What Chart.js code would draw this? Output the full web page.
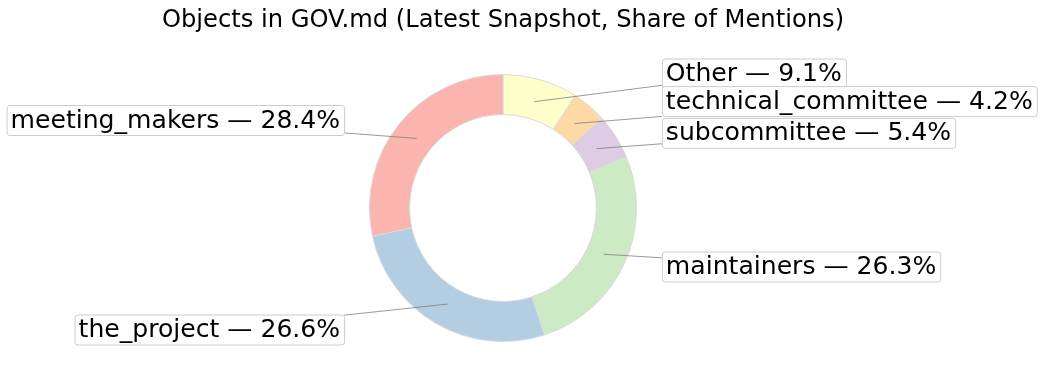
<!DOCTYPE html>
<html>
<head>
<meta charset="utf-8">
<script src="https://cdn.jsdelivr.net/npm/chart.js@4/dist/chart.umd.min.js"></script>
<style>
  html, body { margin: 0; padding: 0; background: #ffffff; }
  #wrap { width: 1042px; height: 383px; position: relative; }
</style>
</head>
<body>
<div id="wrap"><canvas id="c" width="1042" height="383"></canvas></div>
<script>
// ---- data (matplotlib order: counter-clockwise from 12 o'clock) ----
const categories = ['meeting_makers', 'the_project', 'maintainers', 'subcommittee', 'technical_committee', 'Other'];
const shares = [28.4, 26.6, 26.3, 5.4, 4.2, 9.1];
const colors = ['#fbb4ae', '#b3cde3', '#ccebc5', '#decbe4', '#fed9a6', '#ffffcc'];
const titleText = 'Objects in GOV.md (Latest Snapshot, Share of Mentions)';

// Chart.js draws clockwise, so reverse order to mimic counter-clockwise layout
const cjLabels = categories.slice().reverse();
const cjData = shares.slice().reverse();
const cjColors = colors.slice().reverse();

const FONT = "'DejaVu Sans', sans-serif";

const titlePlugin = {
  id: 'wideTitle',
  afterDraw(chart) {
    const ctx = chart.ctx;
    const ca = chart.chartArea;
    ctx.save();
    ctx.font = '24.2px ' + FONT;
    ctx.fillStyle = '#000000';
    ctx.textAlign = 'center';
    ctx.textBaseline = 'middle';
    ctx.fillText(titleText, (ca.left + ca.right) / 2, 21);
    ctx.restore();
  }
};

const labelPlugin = {
  id: 'calloutLabels',
  afterDatasetsDraw(chart) {
    const ctx = chart.ctx;
    const meta = chart.getDatasetMeta(0);
    ctx.save();
    ctx.font = '25.1px ' + FONT;
    ctx.textBaseline = 'middle';
    meta.data.forEach((arc, i) => {
      const p = arc.getProps(['x', 'y', 'startAngle', 'endAngle', 'innerRadius', 'outerRadius'], true);
      const R = p.outerRadius;
      const mid = (p.startAngle + p.endAngle) / 2;
      const cosM = Math.cos(mid), sinM = Math.sin(mid);
      // anchor inside the wedge
      const ax = p.x + 0.83 * R * cosM;
      const ay = p.y + 0.83 * R * sinM;
      const side = cosM >= 0 ? 1 : -1;
      const tx = p.x + side * 1.22 * R;
      const ty = p.y + 1.05 * R * sinM;
      const text = cjLabels[i] + ' \u2014 ' + cjData[i].toFixed(1) + '%';
      const w = ctx.measureText(text).width;
      const padX = 4, h = 30;
      const bx0 = side > 0 ? tx - padX : tx - w - padX;
      const bx1 = bx0 + w + 2 * padX;
      const by0 = ty - h / 2, by1 = ty + h / 2;
      const cx = (bx0 + bx1) / 2, cy = ty;
      // clip leader line at box boundary
      const dx = cx - ax, dy = cy - ay;
      let tmax = 1;
      const cand = [];
      if (dx !== 0) { cand.push(((dx > 0 ? bx0 : bx1) - ax) / dx); }
      if (dy !== 0) { cand.push(((dy > 0 ? by0 : by1) - ay) / dy); }
      cand.forEach(t => {
        if (t > 0 && t < 1) {
          const px = ax + dx * t, py = ay + dy * t;
          if (px >= bx0 - 0.5 && px <= bx1 + 0.5 && py >= by0 - 0.5 && py <= by1 + 0.5) tmax = Math.min(tmax, t);
        }
      });
      ctx.beginPath();
      ctx.strokeStyle = '#808080';
      ctx.lineWidth = 0.8;
      ctx.moveTo(ax, ay);
      ctx.lineTo(ax + dx * tmax, ay + dy * tmax);
      ctx.stroke();
      // box
      ctx.beginPath();
      ctx.roundRect(bx0 + 0.5, by0 + 0.5, bx1 - bx0, by1 - by0, 3);
      ctx.fillStyle = '#ffffff';
      ctx.fill();
      ctx.strokeStyle = '#cccccc';
      ctx.lineWidth = 1;
      ctx.stroke();
      ctx.fillStyle = '#000000';
      ctx.textAlign = 'left';
      ctx.fillText(text, bx0 + padX, ty + 1);
    });
    ctx.restore();
  }
};

new Chart(document.getElementById('c'), {
  type: 'doughnut',
  data: {
    labels: cjLabels,
    datasets: [{
      data: cjData,
      backgroundColor: cjColors,
      borderColor: '#d9d9d9',
      borderWidth: 1,
      hoverOffset: 0
    }]
  },
  options: {
    responsive: false,
    animation: false,
    cutout: '70%',
    rotation: 0,
    layout: { padding: { left: 369, right: 405, top: 74, bottom: 41 } },
    plugins: {
      legend: { display: false },
      tooltip: { enabled: false },
      title: { display: false }
    }
  },
  plugins: [labelPlugin, titlePlugin]
});
</script>
</body>
</html>
